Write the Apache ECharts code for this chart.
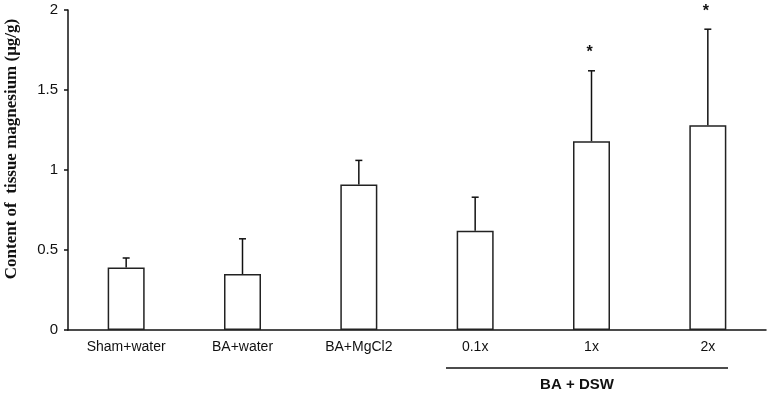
<!DOCTYPE html>
<html style="height: 100%">
<head>
	<meta charset="utf-8">
	<script src="https://cdn.jsdelivr.net/npm/echarts@6/dist/echarts.min.js"></script>
</head>
<body style="height: 100%; margin: 0; background: #fff">
	<div id="container" style="width: 770px; height: 393px;"></div>
	<script type="text/javascript">
		// values
		let categories = ['Sham+water', 'BA+water', 'BA+MgCl2', '0.1x', '1x', '2x'];
		let means = [0.39, 0.35, 0.91, 0.62, 1.18, 1.28];
		let errors = [0.06, 0.22, 0.15, 0.21, 0.44, 0.60];
		let marks = ['', '', '', '', '*', '*'];
		let yTicks = [0, 0.5, 1, 1.5, 2];

		let dom = document.getElementById('container');
		let myChart = echarts.init(dom);

		let errData = categories.map(function (c, i) {
			return [i, means[i], errors[i], marks[i]];
		});

		function renderError(params, api) {
			let i = api.value(0);
			let m = api.value(1);
			let e = api.value(2);
			let mark = errData[params.dataIndex][3];
			let base = api.coord([i, m]);
			let top = api.coord([i, m + e]);
			let lineStyle = { stroke: '#111', lineWidth: 1.5 };
			let children = [
				{ type: 'line', shape: { x1: base[0], y1: base[1], x2: top[0], y2: top[1] }, style: lineStyle },
				{ type: 'line', shape: { x1: top[0] - 3.5, y1: top[1], x2: top[0] + 3.5, y2: top[1] }, style: lineStyle }
			];
			if (mark) {
				children.push({
					type: 'text',
					style: {
						text: mark, x: top[0] - 2, y: top[1] - 18,
						align: 'center', verticalAlign: 'middle',
						font: 'bold 16px "Liberation Sans", Arial', fill: '#111'
					}
				});
			}
			return { type: 'group', children: children };
		}

		let option = {
			animation: false,
			grid: { left: 68, right: 4, top: 10, bottom: 63, containLabel: false, outerBoundsMode: 'none' },
			xAxis: {
				type: 'category',
				data: categories,
				axisLine: { lineStyle: { color: '#111', width: 1.5 } },
				axisTick: { show: false },
				axisLabel: {
					margin: 10, color: '#111', fontSize: 14,
					fontFamily: '"Liberation Sans", Arial', interval: 0
				}
			},
			yAxis: {
				type: 'value',
				min: yTicks[0],
				max: yTicks[yTicks.length - 1],
				interval: 0.5,
				name: 'Content of  tissue magnesium (μg/g)',
				nameLocation: 'middle',
				nameRotate: 90,
				nameGap: 48,
				nameTextStyle: {
					fontFamily: '"Liberation Serif", "Times New Roman", serif',
					fontWeight: 'bold', fontSize: 17, color: '#111',
					padding: [0, 0, 0, 42]
				},
				axisLine: { show: true, lineStyle: { color: '#111', width: 1.5 } },
				axisTick: { show: true, length: 4, lineStyle: { color: '#111', width: 1.5 } },
				axisLabel: {
					margin: 10, color: '#111', fontSize: 15,
					fontFamily: '"Liberation Sans", Arial'
				},
				splitLine: { show: false }
			},
			series: [
				{
					type: 'bar',
					data: means,
					barWidth: 37,
					itemStyle: { color: '#fff', borderColor: '#222', borderWidth: 1.5 }
				},
				{
					type: 'custom',
					renderItem: renderError,
					data: errData,
					encode: { x: 0, y: 1 },
					z: 3
				}
			],
			graphic: [
				{
					type: 'line',
					shape: { x1: 446, y1: 368, x2: 728, y2: 368 },
					style: { stroke: '#111', lineWidth: 1.5 }
				},
				{
					type: 'text',
					style: {
						text: 'BA + DSW', x: 577, y: 385,
						align: 'center', verticalAlign: 'middle',
						font: 'bold 15px "Liberation Sans", Arial', fill: '#111'
					}
				}
			]
		};

		myChart.setOption(option);
	</script>
</body>
</html>
